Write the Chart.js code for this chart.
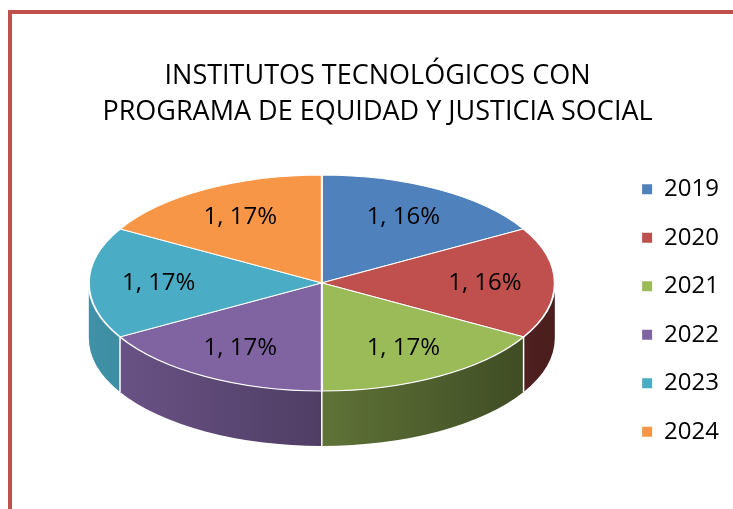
<!DOCTYPE html>
<html>
<head>
<meta charset="utf-8">
<script src="https://cdn.jsdelivr.net/npm/chart.js@4.4.1/dist/chart.umd.min.js"></script>
<style>
  html, body { margin: 0; padding: 0; background: #fff; }
  body { width: 733px; height: 509px; overflow: hidden; position: relative; }
  #frame {
    position: absolute; left: 8px; top: 10px;
    border-left: 4px solid #c0504d; border-top: 4px solid #c0504d;
  }
  canvas { display: block; }
</style>
</head>
<body>
<div id="frame"><canvas id="myChart" width="740" height="495"></canvas></div>
<script>
// --- Data ---
const years = ['2019', '2020', '2021', '2022', '2023', '2024'];
const values = [1, 1, 1, 1, 1, 1];
const percentLabels = ['16%', '16%', '17%', '17%', '17%', '17%'];
const titleLines = ['INSTITUTOS TECNOLÓGICOS CON', 'PROGRAMA DE EQUIDAD Y JUSTICIA SOCIAL'];

// --- Style ---
const colors = ['#4f81bd', '#c0504d', '#9bbb59', '#8064a2', '#4bacc6', '#f79646'];
const FONT = "'Open Sans', 'Noto Sans', sans-serif";
const PIE_RX = 233;   // drawn ellipse radii
const PIE_RY = 108;
const DEPTH = 55;     // height of the pie wall
const LABEL_POS = 0.7;

function shade(hex, f) {
    const n = parseInt(hex.slice(1), 16);
    const r = Math.round(((n >> 16) & 255) * f);
    const g = Math.round(((n >> 8) & 255) * f);
    const b = Math.round((n & 255) * f);
    return `rgb(${r},${g},${b})`;
}

// fake 3D: squash the pie and draw the front wall under it
const pie3d = {
    id: 'pie3d',
    beforeDatasetsDraw(chart) {
        const ctx = chart.ctx;
        const arcs = chart.getDatasetMeta(0).data;
        const { x: cx, y: cy, outerRadius: R } = arcs[0];
        const topY = cy - DEPTH / 2;
        ctx.save();

        arcs.forEach((arc, i) => {
            const a0 = Math.max(arc.startAngle, 0);
            const a1 = Math.min(arc.endAngle, Math.PI);
            if (a1 <= a0) return;
            const grad = ctx.createLinearGradient(cx - PIE_RX, 0, cx + PIE_RX, 0);
            grad.addColorStop(0, shade(colors[i], 0.85));
            grad.addColorStop(1, shade(colors[i], 0.38));
            ctx.beginPath();
            ctx.ellipse(cx, topY, PIE_RX, PIE_RY, 0, a0, a1);
            ctx.ellipse(cx, topY + DEPTH, PIE_RX, PIE_RY, 0, a1, a0, true);
            ctx.closePath();
            ctx.fillStyle = grad;
            ctx.fill();
        });

        // white seams between wall pieces
        ctx.strokeStyle = '#fff';
        ctx.lineWidth = 1.5;
        arcs.forEach(arc => {
            const a = arc.startAngle;
            if (a > 0 && a < Math.PI) {
                const x = cx + PIE_RX * Math.cos(a);
                const y = topY + PIE_RY * Math.sin(a);
                ctx.beginPath();
                ctx.moveTo(x, y);
                ctx.lineTo(x, y + DEPTH);
                ctx.stroke();
            }
        });

        ctx.translate(cx, topY);
        ctx.scale(PIE_RX / R, PIE_RY / R);
        ctx.translate(-cx, -cy);
    },
    afterDatasetsDraw(chart) {
        const ctx = chart.ctx;
        ctx.restore();
        const arcs = chart.getDatasetMeta(0).data;
        const { x: cx, y: cy } = arcs[0];
        const topY = cy - DEPTH / 2;
        ctx.save();
        ctx.font = `24px ${FONT}`;
        ctx.fillStyle = '#000';
        ctx.textAlign = 'center';
        ctx.textBaseline = 'middle';
        arcs.forEach((arc, i) => {
            const m = (arc.startAngle + arc.endAngle) / 2;
            const x = cx + PIE_RX * LABEL_POS * Math.cos(m);
            const y = topY + PIE_RY * LABEL_POS * Math.sin(m);
            ctx.fillText(`${values[i]}, ${percentLabels[i]}`, x, y);
        });
        ctx.restore();
    }
};

const baseLabels = (Chart.overrides.pie || Chart.overrides.doughnut).plugins.legend.labels.generateLabels;

new Chart(document.getElementById('myChart'), {
    type: 'pie',
    data: {
        labels: years,
        datasets: [{
            data: values,
            backgroundColor: colors,
            borderColor: '#fff',
            borderWidth: 1.5,
            clip: false
        }]
    },
    options: {
        responsive: false,
        animation: false,
        events: [],
        layout: {
            padding: { left: 14, right: 23, top: 0, bottom: 25 }
        },
        plugins: {
            title: {
                display: true,
                text: titleLines,
                color: '#000',
                font: { family: FONT, size: 27, weight: 'normal', lineHeight: 1.35 },
                padding: { top: 44, bottom: 6 }
            },
            legend: {
                position: 'right',
                fullSize: false,
                labels: {
                    color: '#000',
                    font: { family: FONT, size: 24 },
                    boxWidth: 10,
                    boxHeight: 10,
                    padding: 24.5,
                    generateLabels: chart => baseLabels(chart).map(l => ({ ...l, lineWidth: 0 }))
                }
            },
            tooltip: { enabled: false }
        }
    },
    plugins: [pie3d]
});
</script>
</body>
</html>
